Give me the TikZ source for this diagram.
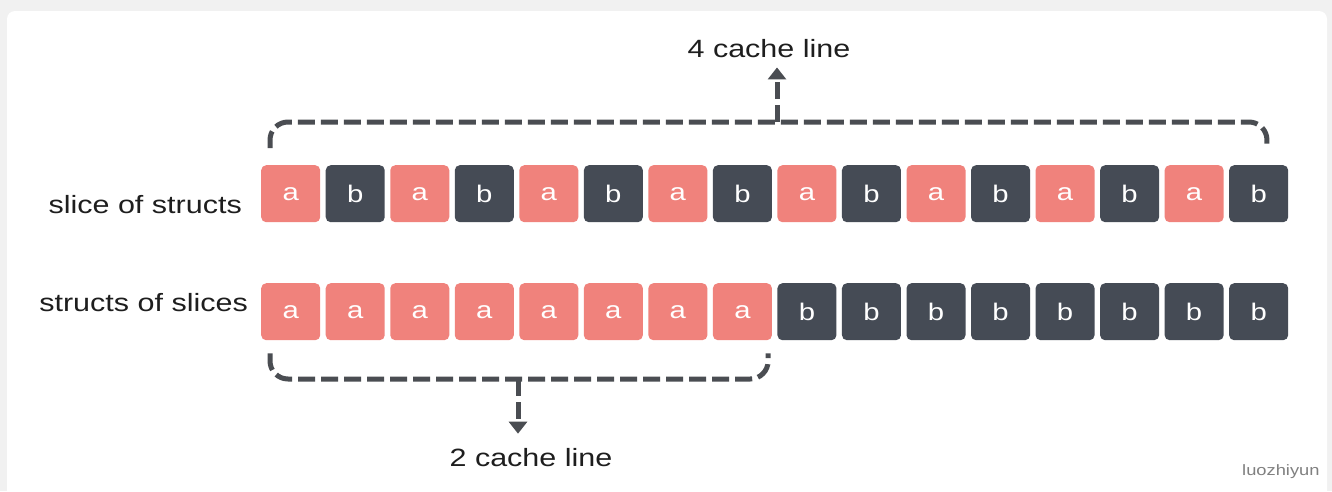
\documentclass[tikz,border=0pt]{standalone}
\usepackage{fontspec}
\setmainfont{Liberation Sans}[FakeStretch=1.22]
\usetikzlibrary{arrows.meta,calc}
\definecolor{pinkbox}{HTML}{F0827C}
\definecolor{darkbox}{HTML}{454B55}
\definecolor{dashc}{HTML}{4A4D52}
\definecolor{txt}{HTML}{1E1E1E}
\definecolor{bgc}{HTML}{F1F1F1}
\begin{document}
\begin{tikzpicture}[x=1pt,y=-1pt,
  cell/.style={minimum width=59pt,minimum height=57pt,inner sep=0pt,rounded corners=5pt,text=white,font=\fontsize{24}{24}\selectfont,anchor=north west},
  abox/.style={cell,fill=pinkbox},
  bbox/.style={cell,fill=darkbox},
  lab/.style={font=\fontsize{25}{25}\selectfont,text=txt,inner sep=0pt},
  brace/.style={draw=dashc,line width=5pt,dash pattern=on 17pt off 6pt,rounded corners=18pt},
  pointer/.style={draw=dashc,line width=5pt,dash pattern=on 17pt off 6pt,-{Triangle[width=18pt,length=12pt]}}
]
\useasboundingbox (0,0) rectangle (1332,491);
\fill[bgc] (0,0) rectangle (1332,491);
\fill[white,rounded corners=8pt] (7,11) rectangle (1327,505);

\foreach \i in {1,...,16}{
  \pgfmathsetmacro{\xx}{261+(\i-1)*64.53}
  \ifodd\i
    \node[abox] (s\i) at (\xx,165) {a};
  \else
    \node[bbox] (s\i) at (\xx,165) {b};
  \fi
  \ifnum\i<9
    \node[abox] (t\i) at (\xx,283) {a};
  \else
    \node[bbox] (t\i) at (\xx,283) {b};
  \fi
}

\node[lab,anchor=base east] (l1) at (242,213) {slice of structs};
\node[lab,anchor=base east] (l2) at (248,311) {structs of slices};
\node[lab,anchor=base] (toplab) at (769,57) {4 cache line};
\node[lab,anchor=base] (botlab) at (531,466) {2 cache line};
\node[font=\fontsize{15}{15}\selectfont,text=gray,anchor=base west,inner sep=0pt] (wm) at (1242,475) {luozhiyun};

\coordinate (tl) at ($(s1.north west)+(9,-17)$);
\coordinate (tr) at ($(s16.north west)+(38,-17)$);
\coordinate (tm) at (777,122);
\draw[brace] (tl) |- (tm) -| (tr);
\draw[pointer,shorten >=10pt] (tm) -- (tm |- toplab.south);

\coordinate (bl) at ($(t1.south west)+(9,13)$);
\coordinate (br) at ($(t8.south east)+(-4,13)$);
\coordinate (bm) at (518,379);
\draw[brace] (bl) |- (bm) -| (br);
\draw[pointer,shorten >=14pt] (bm) -- (bm |- botlab.north);
\end{tikzpicture}
\end{document}
